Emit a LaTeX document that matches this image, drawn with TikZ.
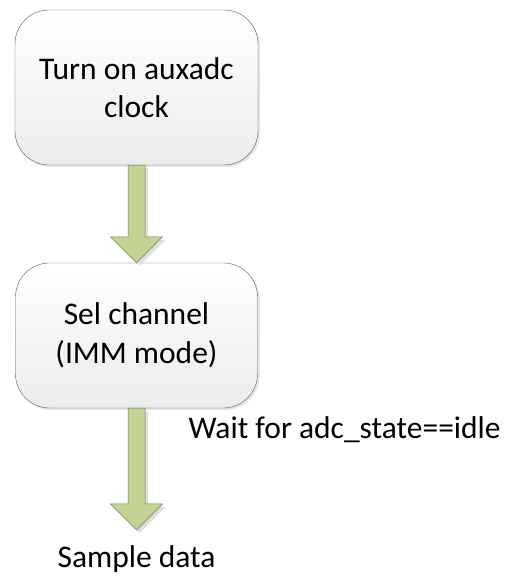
\documentclass[tikz,border=0pt]{standalone}
\usepackage{fontspec}
\setmainfont{Carlito}
\usepackage{xcolor}
\usepackage{tikz}
\usetikzlibrary{calc,positioning,shadows}
\definecolor{boxline}{RGB}{90,90,90}
\definecolor{boxbottom}{RGB}{236,236,236}
\definecolor{arrowfill}{RGB}{195,211,150}
\definecolor{arrowline}{RGB}{110,130,70}

% block arrow from the bottom of one node down to another point
\newcommand{\flowarrow}[2]{%
  \fill[gray!25] ($(#1)+(-8.5+3,-3)$) -- ($(#1|-#2)+(-8.5+3,26-3)$) -- ($(#1|-#2)+(-26+3,26-3)$)
    -- ($(#1|-#2)+(3,-3)$) -- ($(#1|-#2)+(26+3,26-3)$) -- ($(#1|-#2)+(8.5+3,26-3)$) -- ($(#1)+(8.5+3,-3)$) -- cycle;
  \draw[flowarrow] ($(#1)+(-8.5,0)$) -- ($(#1|-#2)+(-8.5,26)$) -- ($(#1|-#2)+(-26,26)$)
    -- (#1|-#2) -- ($(#1|-#2)+(26,26)$) -- ($(#1|-#2)+(8.5,26)$) -- ($(#1)+(8.5,0)$) -- cycle;
}

\begin{document}
\begin{tikzpicture}[x=1pt, y=1pt,
    every node/.append style={font=\fontsize{31.5}{38.5}\selectfont, text=black},
    stepbox/.style={draw=boxline, thin, rounded corners=34pt, align=center,
      top color=white, bottom color=boxbottom, inner sep=0pt,
      drop shadow={opacity=0.2, shadow xshift=2pt, shadow yshift=-2pt}},
    flowarrow/.style={fill=arrowfill, draw=arrowline, line width=0.5pt, line join=miter}]
  \useasboundingbox (0,0) rectangle (509,581);

  % the two process boxes
  \node[stepbox, minimum width=243pt, minimum height=155pt] (clockon) at (136.5,493.5)
    {Turn on auxadc\\clock};
  \node[stepbox, minimum width=242pt, minimum height=145pt] (selchan) at (136.5,245.5)
    {Sel channel\\(IMM mode)};

  % end of the flow
  \node (sample) at (136.5,22) {Sample data};
  \coordinate (sampletip) at (136.5,51);
  \node[anchor=west] (waitidle) at (185,151) {Wait for adc\_state==idle};

  % connectors
  \flowarrow{clockon.south}{selchan.north}
  \flowarrow{selchan.south}{sampletip}
\end{tikzpicture}
\end{document}
